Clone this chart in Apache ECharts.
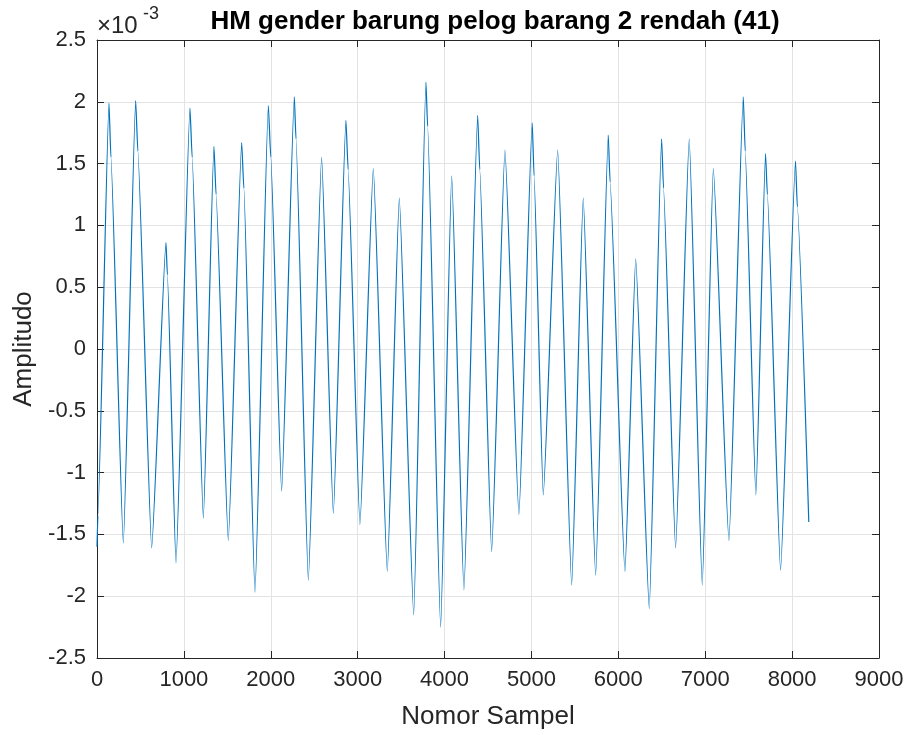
<!DOCTYPE html>
<html>
<head>
<meta charset="utf-8">
<script src="https://cdn.jsdelivr.net/npm/echarts@6/dist/echarts.min.js"></script>
<style>
  html, body { margin: 0; padding: 0; background: #fff; }
  #div-chart { width: 909px; height: 735px; }
</style>
</head>
<body>
<div id="div-chart"></div>
<script>
"use strict";

//
// Data, amplitude in units of 1e-3
//
const sample_no = [
  0, 10, 138, 160, 303, 445, 470, 629, 794, 810, 909, 1070, 1095, 1224, 1346,
  1370, 1511, 1665, 1690, 1818, 1972, 2000, 2125, 2271, 2290, 2432, 2585,
  2720, 2865, 2890, 3026, 3180, 3341, 3479, 3645, 3786, 3805, 3955, 4082,
  4223, 4381, 4405, 4542, 4695, 4856, 5009, 5030, 5136, 5302, 5463, 5596,
  5739, 5884, 5905, 6076, 6200, 6356, 6498, 6520, 6659, 6816, 6966, 7093,
  7273, 7438, 7460, 7583, 7694, 7715, 7867, 8039, 8060, 8192
];
const amplitude_e3 = [
  -1.6, -1.35, 1.99, 1.55, -1.57, 2.01, 1.6, -1.61, 0.86, 0.6, -1.73, 1.95,
  1.55, -1.37, 1.64, 1.25, -1.55, 1.67, 1.3, -1.97, 1.97, 1.55, -1.15, 2.04,
  1.7, -1.87, 1.55, -1.33, 1.85, 1.45, -1.42, 1.46, -1.80, 1.22, -2.15, 2.16,
  1.8, -2.25, 1.40, -1.95, 1.89, 1.45, -1.64, 1.61, -1.34, 1.83, 1.4, -1.18,
  1.61, -1.91, 1.22, -1.83, 1.73, 1.35, -1.80, 0.73, -2.10, 1.70, 1.3, -1.61,
  1.70, -1.91, 1.46, -1.55, 2.04, 1.6, -1.18, 1.58, 1.25, -1.79, 1.52, 1.15,
  -1.40
];
const x_ticks = [0, 1000, 2000, 3000, 4000, 5000, 6000, 7000, 8000, 9000];
const y_ticks = [-2.5, -2, -1.5, -1, -0.5, 0, 0.5, 1, 1.5, 2, 2.5];

const title_text = "HM gender barung pelog barang 2 rendah (41)";
const x_name = "Nomor Sampel";
const y_name = "Amplitudo";

//
// Chart
//
const font = "'Liberation Sans', Arial, Helvetica, sans-serif";
const text_color = "#262626";
const grid_color = "#e3e3e3";

const data_echarts = sample_no.map((x, i) => [x, amplitude_e3[i]]);

const chart = echarts.init(document.getElementById("div-chart"));

const axis_common = {
  axisLine: { show: true, onZero: false, lineStyle: { color: text_color, width: 1 } },
  axisTick: { show: true, inside: true, length: 7, lineStyle: { color: text_color } },
};

chart.setOption({
  animation: false,
  title: {
    text: title_text,
    left: 490,
    textAlign: "center",
    top: 4,
    textStyle: { fontFamily: font, fontWeight: "bold", fontSize: 26, color: "#000" },
  },
  graphic: [
    {
      type: "text",
      left: 97,
      top: 14,
      style: { text: "\u00d710", fontFamily: font, fontSize: 24, fill: text_color },
    },
    {
      type: "text",
      left: 143,
      top: 5,
      style: { text: "-3", fontFamily: font, fontSize: 18, fill: text_color },
    },
  ],
  grid: { left: 97, right: 30, top: 40, bottom: 77, containLabel: false },
  xAxis: [
    {
      type: "value",
      min: x_ticks[0],
      max: x_ticks[x_ticks.length - 1],
      interval: 1000,
      name: x_name,
      nameLocation: "middle",
      nameGap: 46,
      nameTextStyle: { fontFamily: font, fontSize: 26, color: text_color },
      ...axis_common,
      axisLabel: {
        fontFamily: font,
        fontSize: 22,
        color: text_color,
        margin: 11,
        formatter: (v) => String(v),
      },
      splitLine: { show: true, lineStyle: { color: grid_color, width: 1 } },
    },
    {
      type: "value",
      position: "top",
      min: x_ticks[0],
      max: x_ticks[x_ticks.length - 1],
      interval: 1000,
      ...axis_common,
      axisLabel: { show: false },
      splitLine: { show: false },
    },
  ],
  yAxis: [
    {
      type: "value",
      min: y_ticks[0],
      max: y_ticks[y_ticks.length - 1],
      interval: 0.5,
      name: y_name,
      nameLocation: "middle",
      nameGap: 57,
      nameTextStyle: { fontFamily: font, fontSize: 26, color: text_color },
      ...axis_common,
      axisLabel: {
        fontFamily: font,
        fontSize: 22,
        color: text_color,
        margin: 11,
        formatter: (v) => String(Math.round(v * 10) / 10),
      },
      splitLine: { show: true, lineStyle: { color: grid_color, width: 1 } },
    },
    {
      type: "value",
      position: "right",
      min: y_ticks[0],
      max: y_ticks[y_ticks.length - 1],
      interval: 0.5,
      ...axis_common,
      axisLabel: { show: false },
      splitLine: { show: false },
    },
  ],
  series: [
    {
      type: "line",
      data: data_echarts,
      showSymbol: false,
      smooth: 0.15,
      smoothMonotone: "x",
      lineStyle: { color: "#0072BD", width: 1.2 },
      silent: true,
    },
  ],
});
</script>
</body>
</html>
